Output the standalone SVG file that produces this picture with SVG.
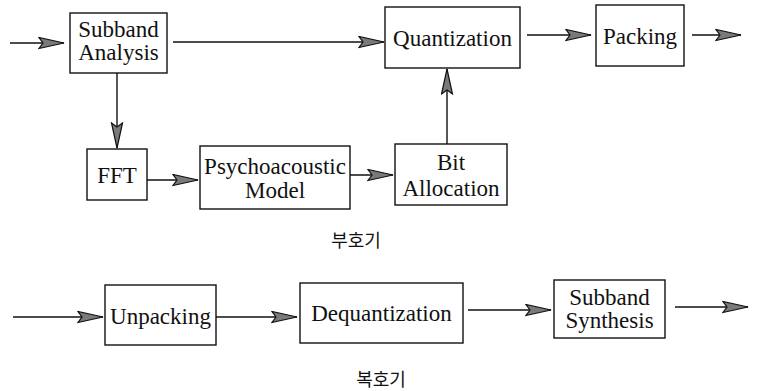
<svg xmlns="http://www.w3.org/2000/svg" width="757" height="391" viewBox="0 0 757 391">
<defs>
<marker id="ah" markerUnits="userSpaceOnUse" markerWidth="28" markerHeight="14" refX="26" refY="6.5" orient="auto">
<path d="M1,1 L26,6.5 L1,12 L5,6.5 Z" fill="#7a7a7a" stroke="#111" stroke-width="1.2"/>
</marker>
</defs>
<style>
.box{fill:#fff;stroke:#111;stroke-width:1.4}
.t{font-size:23px;fill:#111;text-anchor:middle}
.k{font-size:18px;fill:#111;text-anchor:middle}
.c line{stroke:#111;stroke-width:1.4;marker-end:url(#ah)}
</style>
<rect width="757" height="391" fill="#fff"/>
<g id="connectors" class="c">
<line x1="10" y1="43" x2="64" y2="43"/>
<line x1="173" y1="42" x2="384" y2="42"/>
<line x1="527" y1="35" x2="591" y2="35"/>
<line x1="692" y1="35" x2="741" y2="35"/>
<line x1="117" y1="73" x2="117" y2="148"/>
<line x1="147" y1="180" x2="198" y2="180"/>
<line x1="350" y1="175" x2="393" y2="175"/>
<line x1="447" y1="144" x2="447" y2="69"/>
<line x1="13" y1="317" x2="103" y2="317"/>
<line x1="216" y1="317" x2="297" y2="317"/>
<line x1="468" y1="310" x2="551" y2="310"/>
<line x1="675" y1="307" x2="748" y2="307"/>
</g>
<g font-family="'Liberation Serif', 'DejaVu Serif', serif">
<g id="subband-analysis">
<rect class="box" x="70" y="13" width="97" height="60"/>
<text class="t" x="118.5" y="37">Subband</text>
<text class="t" x="118.5" y="60">Analysis</text>
</g>
<g id="quantization">
<rect class="box" x="385" y="7" width="135" height="61"/>
<text class="t" x="452.5" y="46">Quantization</text>
</g>
<g id="packing">
<rect class="box" x="596" y="5" width="88" height="61"/>
<text class="t" x="640" y="44">Packing</text>
</g>
<g id="fft">
<rect class="box" x="87" y="149" width="60" height="51"/>
<text class="t" x="117" y="183">FFT</text>
</g>
<g id="psychoacoustic-model">
<rect class="box" x="200" y="146" width="150" height="63"/>
<text class="t" x="275" y="174">Psychoacoustic</text>
<text class="t" x="275" y="198">Model</text>
</g>
<g id="bit-allocation">
<rect class="box" x="395" y="144" width="112" height="61"/>
<text class="t" x="451" y="170">Bit</text>
<text class="t" x="451" y="196">Allocation</text>
</g>
<g id="unpacking">
<rect class="box" x="105" y="285" width="111" height="60"/>
<text class="t" x="160.5" y="324">Unpacking</text>
</g>
<g id="dequantization">
<rect class="box" x="300" y="283" width="163" height="60"/>
<text class="t" x="381.5" y="321">Dequantization</text>
</g>
<g id="subband-synthesis">
<rect class="box" x="554" y="280" width="111" height="58"/>
<text class="t" x="609.5" y="305">Subband</text>
<text class="t" x="609.5" y="328">Synthesis</text>
</g>
</g>
<g font-family="'Noto Sans CJK KR', sans-serif">
<g id="encoder-label">
<text class="k" x="356" y="247">부호기</text>
</g>
<g id="decoder-label">
<text class="k" x="381" y="386">복호기</text>
</g>
</g>
</svg>
